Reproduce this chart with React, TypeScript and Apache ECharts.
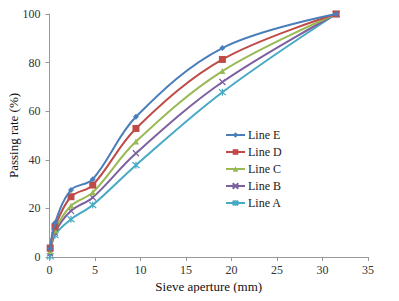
import React, { useEffect, useRef } from "react";
import * as echarts from "echarts";

const sieveSizes = [0.075, 0.6, 2.36, 4.75, 9.5, 19, 31.5];
const lineE = [3.5, 14, 27.6, 32, 57.7, 86, 100];
const lineD = [3.7, 12.5, 24.8, 29.6, 52.9, 81.3, 100];
const lineC = [2.5, 11, 21.1, 26.6, 47.5, 76.5, 100];
const lineB = [1.5, 10, 19, 24.5, 42.7, 72, 100];
const lineA = [0.3, 9, 15.5, 21.4, 37.8, 67.8, 100];
const seriesNames = ["Line E", "Line D", "Line C", "Line B", "Line A"];
const xTicks = [0, 5, 10, 15, 20, 25, 30, 35];
const yTicks = [0, 20, 40, 60, 80, 100];

const colors = ["#4A7EBB", "#BE4B48", "#98B954", "#7D60A0", "#46AAC5"];
const symbols = [
  "diamond",
  "rect",
  "triangle",
  "path://M0,0L10,10M10,0L0,10",
  "path://M0,0L10,10M10,0L0,10M5,-1L5,11",
];
const symbolSizes = [6, 7, 6, 6, 7];
const FONT = "Liberation Serif";

export default function App() {
  const ref = useRef<HTMLDivElement>(null);
  useEffect(() => {
    const chart = echarts.init(ref.current!, undefined, { renderer: "svg" });
    const all = [lineE, lineD, lineC, lineB, lineA];
    chart.setOption({
      animation: false,
      textStyle: { fontFamily: FONT },
      grid: { left: 49.5, right: 31, top: 14, bottom: 44, containLabel: false, outerBoundsMode: "none" },
      legend: {
        orient: "vertical",
        left: 220,
        top: 124,
        itemWidth: 19,
        itemHeight: 7,
        itemGap: 5,
        textStyle: { fontFamily: FONT, fontSize: 12, color: "#222", padding: [0, 0, 0, -2] },
        data: seriesNames,
      },
      xAxis: {
        type: "value",
        min: xTicks[0],
        max: xTicks[xTicks.length - 1],
        interval: 5,
        name: "Sieve aperture (mm)",
        nameLocation: "middle",
        nameGap: 23,
        nameMoveOverlap: false,
        nameTextStyle: { fontFamily: FONT, fontSize: 13, color: "#111" },
        axisLine: { lineStyle: { color: "#999" } },
        axisTick: { show: true, length: 4, lineStyle: { color: "#999" } },
        axisLabel: { fontFamily: FONT, fontSize: 12, color: "#333", margin: 7 },
        splitLine: { show: false },
      },
      yAxis: {
        type: "value",
        min: yTicks[0],
        max: yTicks[yTicks.length - 1],
        interval: 20,
        name: "Passing rate (%)",
        nameLocation: "middle",
        nameGap: 30,
        nameMoveOverlap: false,
        nameTextStyle: { fontFamily: FONT, fontSize: 13, color: "#111" },
        axisLine: { show: true, lineStyle: { color: "#999" } },
        axisTick: { show: true, length: 4, lineStyle: { color: "#999" } },
        axisLabel: { fontFamily: FONT, fontSize: 12, color: "#333", margin: 9 },
        splitLine: { show: false },
      },
      series: seriesNames.map((name, i) => ({
        name,
        type: "line",
        smooth: 0.35,
        data: sieveSizes.map((x, j) => [x, all[i][j]]),
        symbol: symbols[i],
        symbolSize: symbolSizes[i],
        showAllSymbol: true,
        z: 10 - i,
        lineStyle: { color: colors[i], width: 2 },
        itemStyle: { color: colors[i], borderColor: colors[i], borderWidth: i >= 3 ? 1.2 : 0 },
      })),
    });
    return () => chart.dispose();
  }, []);
  return <div ref={ref} style={{ width: 399, height: 301, margin: -8 }} />;
}
